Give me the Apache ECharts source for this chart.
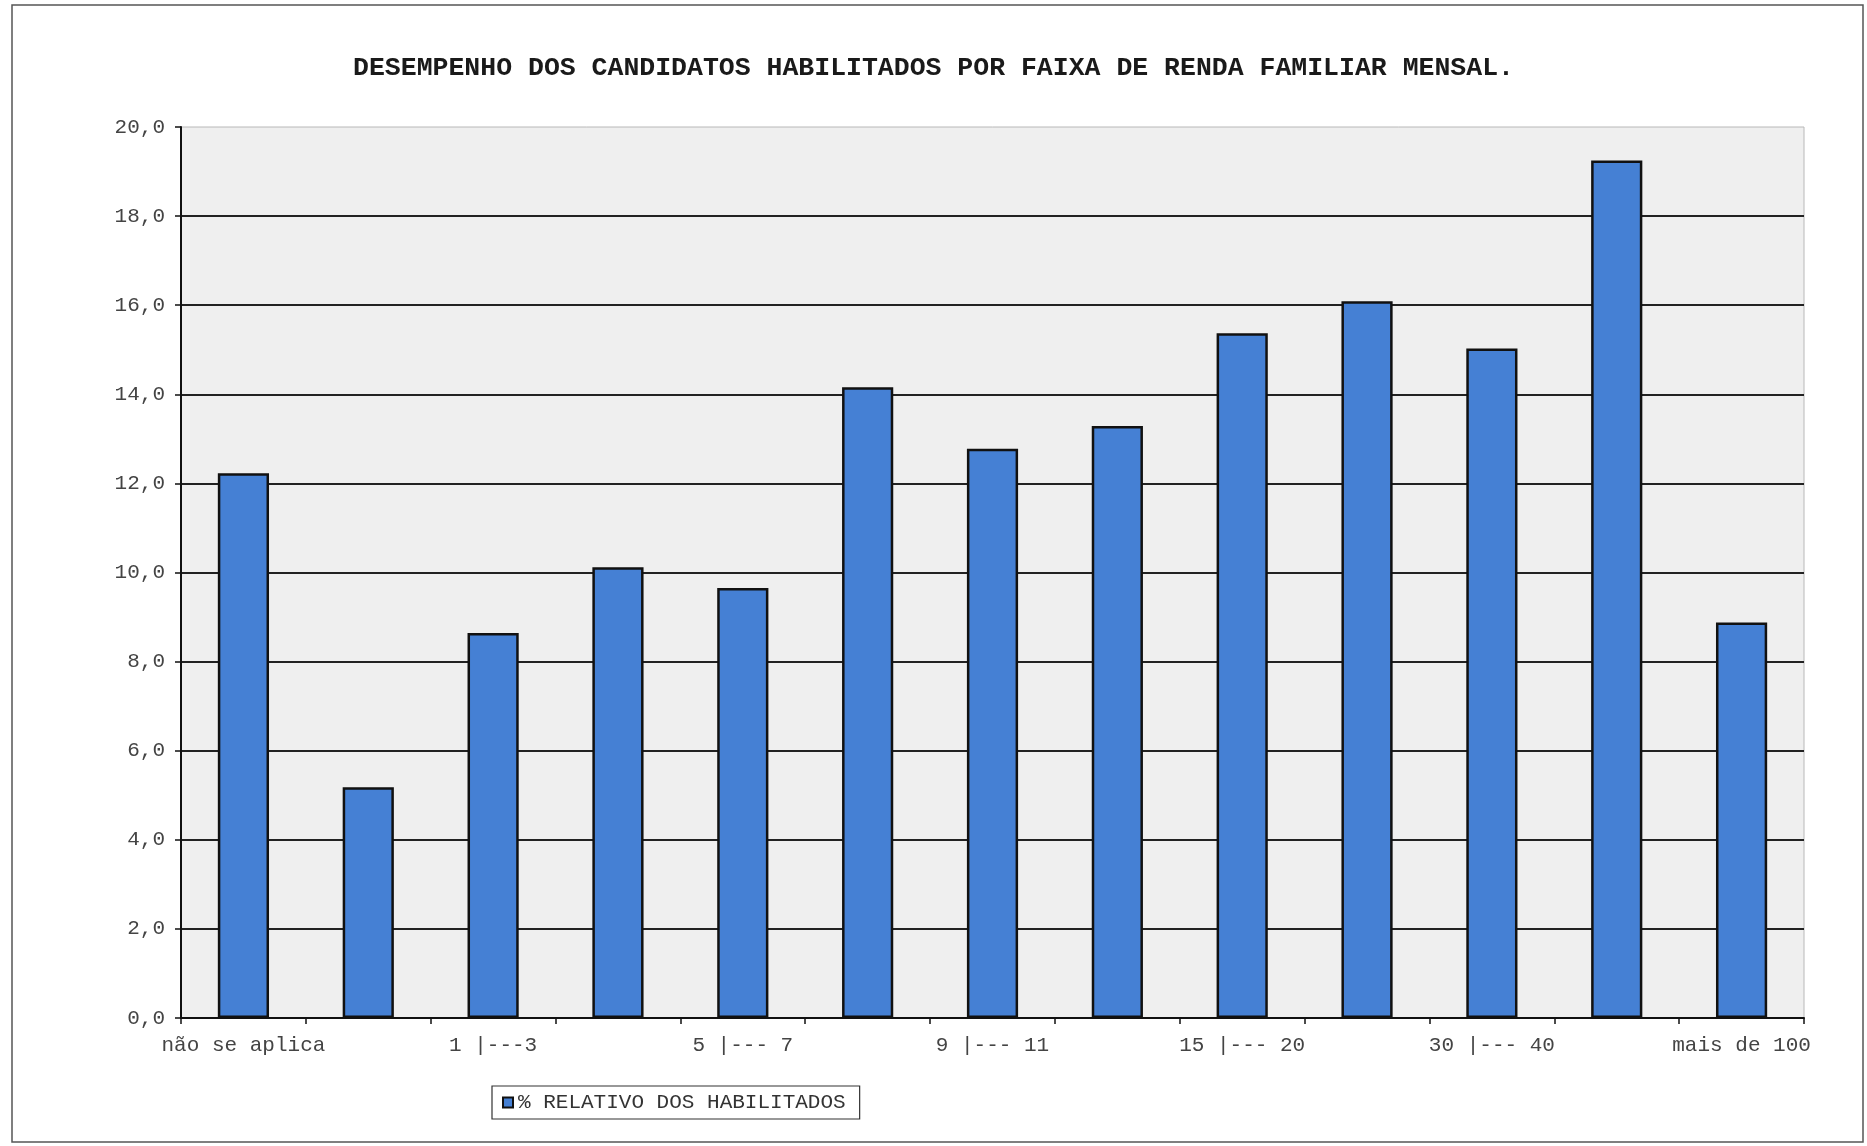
<!doctype html>
<html lang="pt">
<head>
    <meta charset="UTF-8">
    <title>Desempenho por faixa de renda</title>
    <script src="https://cdn.jsdelivr.net/npm/echarts@6/dist/echarts.min.js"></script>
    <style>
        html, body { margin: 0; padding: 0; background: #fff; }
        #chart { width: 1867px; height: 1146px; }
    </style>
</head>
<body>
<div id="chart"></div>
<script>
    // faixas de renda (so as pares aparecem no eixo)
    var faixas = ['não se aplica', 'até 1', '1 |---3', '3 |--- 5', '5 |--- 7', '7 |--- 9', '9 |--- 11',
        '11 |--- 15', '15 |--- 20', '20 |--- 30', '30 |--- 40', '40 |--- 100', 'mais de 100'];
    var relativoHabilitados = [12.23, 5.18, 8.64, 10.12, 9.65, 14.16, 12.78, 13.29, 15.37, 16.09, 15.03, 19.25, 8.88];
    var eixoY = { min: 0, max: 20, passo: 2 };

    var fonte = '"Liberation Mono", "Courier New", monospace';
    var myChart = echarts.init(document.getElementById('chart'));

    var option = {
        backgroundColor: '#fff',
        animation: false,
        title: {
            text: 'DESEMPENHO DOS CANDIDATOS HABILITADOS POR FAIXA DE RENDA FAMILIAR MENSAL.',
            left: 'center',
            top: 50,
            textStyle: { fontFamily: fonte, fontSize: 26.5, fontWeight: 'bold', color: '#1a1a1a' }
        },
        graphic: [{
            type: 'rect',
            shape: { x: 12, y: 5, width: 1851, height: 1137 },
            style: { fill: 'none', stroke: '#555', lineWidth: 1.5 },
            silent: true
        }],
        grid: {
            left: 181, right: 63, top: 127, bottom: 128,
            show: true,
            backgroundColor: '#efefef',
            borderColor: '#b8b8b8',
            borderWidth: 1
        },
        legend: {
            left: 492,
            top: 1086,
            orient: 'horizontal',
            padding: [6, 14, 6, 10],
            borderColor: '#333',
            borderWidth: 1.2,
            itemWidth: 10,
            itemHeight: 10,
            itemGap: 5,
            icon: 'rect',
            textStyle: { fontFamily: fonte, fontSize: 21, color: '#333' },
            data: ['% RELATIVO DOS HABILITADOS']
        },
        xAxis: {
            type: 'category',
            data: faixas,
            boundaryGap: true,
            axisLine: { lineStyle: { color: '#111', width: 2 } },
            axisTick: { show: true, alignWithLabel: false, interval: 0, length: 6, lineStyle: { color: '#111', width: 1.5 } },
            axisLabel: { interval: 1, margin: 17, fontFamily: fonte, fontSize: 21, color: '#444' },
            splitLine: { show: false }
        },
        yAxis: {
            type: 'value',
            min: eixoY.min,
            max: eixoY.max,
            interval: eixoY.passo,
            axisLine: { show: true, lineStyle: { color: '#111', width: 2 } },
            axisTick: { show: true, length: 6, lineStyle: { color: '#111', width: 1.5 } },
            axisLabel: {
                margin: 16, fontFamily: fonte, fontSize: 21, color: '#444',
                formatter: function (v) { return v.toFixed(1).replace('.', ','); }
            },
            splitLine: { show: true, showMaxLine: false, lineStyle: { color: '#222', width: 2 } }
        },
        series: [{
            name: '% RELATIVO DOS HABILITADOS',
            type: 'bar',
            data: relativoHabilitados,
            barWidth: '41%',
            itemStyle: { color: '#4580d4', borderColor: '#111', borderWidth: 2.5 }
        }]
    };

    myChart.setOption(option);
</script>
</body>
</html>
